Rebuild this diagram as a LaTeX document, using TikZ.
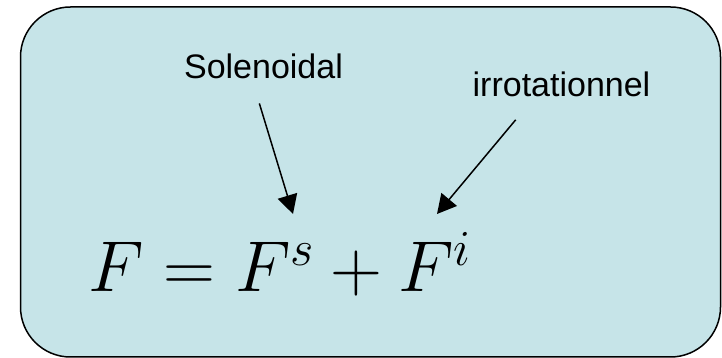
\RequirePackage{fix-cm}
\documentclass[tikz,border=0pt]{standalone}
\usepackage{fontspec}
\usepackage{xcolor}
\usepackage{tikz}
\usetikzlibrary{arrows.meta}
\newfontfamily\labelfont{Liberation Sans}
\definecolor{PaleTeal}{HTML}{C6E4E8}

\begin{document}
\begin{tikzpicture}[x=1pt,y=1pt,
    lbl/.style={inner sep=0pt,anchor=base,font=\labelfont\fontsize{34}{37}\selectfont},
    pointer/.style={-{Triangle[length=19pt,width=20pt]},line width=1.5pt}]
  \useasboundingbox (0,0) rectangle (722,358);
  \draw[rounded corners=50pt,fill=PaleTeal,line width=1.5pt] (20.5,1) rectangle (720.5,351);

  \node[lbl] (sol) at (263.5,279) {Solenoidal};
  \node[lbl] (irr) at (561.5,261) {irrotationnel};
  \node[inner sep=0pt,anchor=base west,font=\fontsize{72}{80}\selectfont] (eq) at (88,66)
    {$F = F^s + F^i$};

  \coordinate (tipS) at (293,144);
  \coordinate (tipI) at (437,144);
  \draw[pointer,shorten <=25pt] (sol.228) -- (tipS);
  \draw[pointer,shorten <=29pt] (irr.205) -- (tipI);
\end{tikzpicture}
\end{document}
